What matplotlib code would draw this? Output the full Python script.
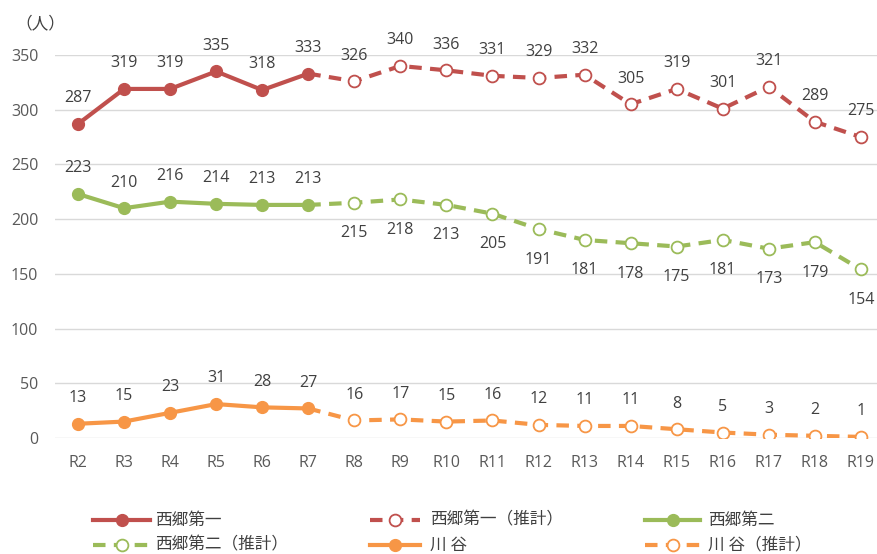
import matplotlib
matplotlib.use("Agg")
import matplotlib.pyplot as plt
from matplotlib.lines import Line2D

plt.rcParams['font.family'] = ['Noto Sans CJK JP', 'DejaVu Sans']

categories = ["R2", "R3", "R4", "R5", "R6", "R7", "R8", "R9", "R10", "R11",
              "R12", "R13", "R14", "R15", "R16", "R17", "R18", "R19"]
n_actual = 6
saigo1_actual = [287, 319, 319, 335, 318, 333]
saigo1_est = [326, 340, 336, 331, 329, 332, 305, 319, 301, 321, 289, 275]
saigo2_actual = [223, 210, 216, 214, 213, 213]
saigo2_est = [215, 218, 213, 205, 191, 181, 178, 175, 181, 173, 179, 154]
kawatani_actual = [13, 15, 23, 31, 28, 27]
kawatani_est = [16, 17, 15, 16, 12, 11, 11, 8, 5, 3, 2, 1]
yticks = [0, 50, 100, 150, 200, 250, 300, 350]

RED = "#C0504D"
GREEN = "#9BBB59"
ORANGE = "#F79646"
TXT = "#404040"

W, H = 877, 554
fig = plt.figure(figsize=(W / 100, H / 100), dpi=100)
ax = fig.add_axes([0.0627, 0.2094, 0.9373, 0.6913])

series = [
    (saigo1_actual, saigo1_est, RED, "西郷第一", "above", "above"),
    (saigo2_actual, saigo2_est, GREEN, "西郷第二", "above", "below"),
    (kawatani_actual, kawatani_est, ORANGE, "川 谷", "above", "above"),
]

lw = 3.0
ms = 8.5
dash = (3.0, 2.0)
handles = []
labels = []
numfont = ['Open Sans', 'DejaVu Sans']
for act, est, col, name, pos_a, pos_e in series:
    xa = list(range(n_actual))
    xe = list(range(n_actual - 1, n_actual + len(est)))
    ye = [act[-1]] + est
    ax.plot(xe, ye, color=col, lw=lw, dashes=dash, solid_capstyle='butt',
            dash_capstyle='butt', zorder=2)
    ax.plot(xa, act, color=col, lw=lw, marker='o', ms=ms, mfc=col, mec=col,
            solid_capstyle='round', zorder=3)
    ax.plot(xe[1:], est, ls='none', marker='o', ms=ms, mfc='white', mec=col,
            mew=1.3, zorder=4)
    for x, v in zip(xa, act):
        off = 18.5 if pos_a == "above" else -22
        ax.annotate(str(v), (x, v), xytext=(0, off), textcoords='offset points',
                    ha='center', va='center', fontsize=11.5, color=TXT,
                    family=numfont, annotation_clip=False)
    for x, v in zip(xe[1:], est):
        off = 18.5 if pos_e == "above" else -22
        ax.annotate(str(v), (x, v), xytext=(0, off), textcoords='offset points',
                    ha='center', va='center', fontsize=11.5, color=TXT,
                    family=numfont, annotation_clip=False)
    handles.append(dict(color=col, lw=lw, marker='o', ms=ms, mfc=col, mec=col))
    labels.append(name)
    handles.append(dict(color=col, lw=lw, dashes=dash, marker='o', ms=ms,
                        mfc='white', mec=col, mew=1.3))
    labels.append(name + "（推計）")

ax.set_xlim(-0.5, 17.35)
ax.set_ylim(0, 350)
ax.set_yticks(yticks)
ax.set_xticks(range(len(categories)))
ax.set_xticklabels(categories)
ax.grid(axis='y', color='#D9D9D9', lw=1)
ax.set_axisbelow(True)
for s in ax.spines.values():
    s.set_visible(False)
ax.tick_params(axis='both', length=0, labelsize=11.5, colors='#595959')
ax.tick_params(axis='x', pad=12)
ax.tick_params(axis='y', pad=12)
for lab in ax.get_xticklabels() + ax.get_yticklabels():
    lab.set_family(numfont)

fig.text(40 / W, 1 - 24 / H, "（人）", ha='center', va='center', fontsize=12, color=TXT)

# manual legend (row-major order as in reference)
col_x = [(93, 150, 155), (370, 420, 430), (645, 700, 708)]
row_y = [520, 545]
for i, (kw, lab) in enumerate(zip(handles, labels)):
    r, c = divmod(i, 3)
    x0, x1, xt = col_x[c]
    y = 1 - row_y[r] / H
    xs = [x0 / W, (x0 + x1) / 2 / W, x1 / W]
    ln = Line2D(xs, [y, y, y], transform=fig.transFigure, markevery=[1], **kw)
    fig.add_artist(ln)
    fig.text(xt / W, y, lab, ha='left', va='center', fontsize=12, color=TXT)

fig.savefig("out.png", dpi=100)
